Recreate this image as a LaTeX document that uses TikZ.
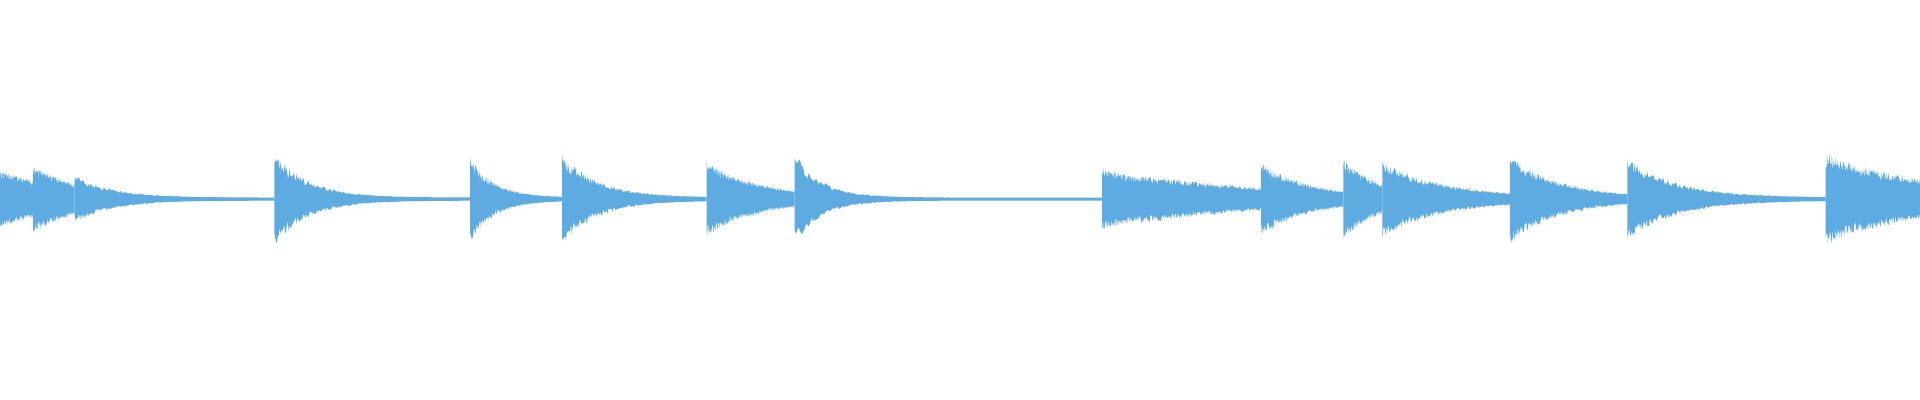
\documentclass[tikz,border=0pt]{standalone}
\definecolor{wavec}{RGB}{94,171,226}
\tikzset{wave/.style={fill=wavec,draw=none}}
\begin{document}
\begin{tikzpicture}[x=1.2245pt,y=1.2245pt]
\useasboundingbox (0,0) rectangle (1568,326.6);
\pgfmathsetseed{7}
\foreach \a/\b/\A/\T in {0/27/22/60,27/61/27/40,61/224/19/30,224/384/38/28,384/459/34/20,459/577/36/30,577/611/30/40,611/649/14/40,649/900/37/22,900/932/24/80,932/1030/19/120,1030/1097/29/40,1097/1129/32/30,1129/1233/30/50,1233/1329/36/40,1329/1491/33/40,1491/1568/36/90}{
  \fill[wave] plot[domain=\a:\b,samples=220] (\x,{164+1.2+\A*exp(-(\x-\a)/\T)*(0.65+0.35*rnd)})
    -- plot[domain=\b:\a,samples=220] (\x,{164-1.2-\A*exp(-(\x-\a)/\T)*(0.65+0.35*rnd)}) -- cycle;
}
\end{tikzpicture}
\end{document}
